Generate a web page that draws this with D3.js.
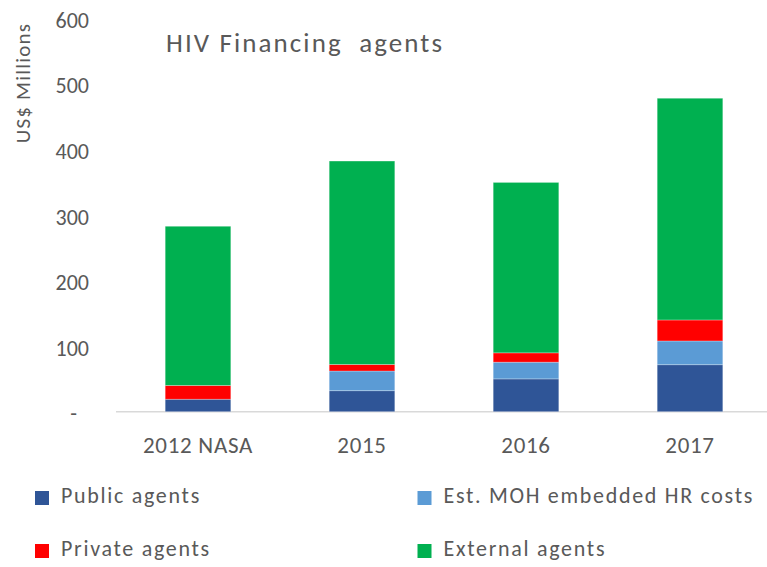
<!DOCTYPE html>
<html><head><meta charset="utf-8">
<script src="https://cdn.jsdelivr.net/npm/d3@7"></script>
<style>body{margin:0;background:#fff;} text{font-family:Carlito, Calibri, Lato, sans-serif;}</style>
</head><body><svg id="c" width="767" height="567"></svg>
<script>
const categories = ["2012 NASA", "2015", "2016", "2017"];
const seriesNames = ["Public agents", "Est. MOH embedded HR costs", "Private agents", "External agents"];
const publicAgents = [19, 32, 50, 71.6];
const mohHR = [0, 30, 25.5, 36.2];
const privateAgents = [21, 10, 14.2, 32];
const externalAgents = [242.6, 310, 259.7, 337.9];
const yTicks = [0, 100, 200, 300, 400, 500, 600];
const colors = ["#2F5597", "#5B9BD5", "#FF0000", "#00B050"];

const svg = d3.select("#c");
const x = d3.scaleBand().domain(categories).range([116, 772]).paddingInner(0.6).paddingOuter(0.3);
const y = d3.scaleLinear().domain([0, 600]).range([411.7, 18]);

const rows = categories.map((c, i) => ({cat: c, s0: publicAgents[i], s1: mohHR[i], s2: privateAgents[i], s3: externalAgents[i]}));
const stack = d3.stack().keys(["s0", "s1", "s2", "s3"])(rows);

// axis line
svg.append("line").attr("x1", 116).attr("x2", 767).attr("y1", y(0)).attr("y2", y(0))
  .attr("stroke", "#d9d9d9").attr("stroke-width", 1.5);

svg.append("g").selectAll("g").data(stack).join("g").attr("fill", (d, i) => colors[i])
  .selectAll("rect").data(d => d).join("rect")
  .attr("x", d => x(d.data.cat)).attr("width", x.bandwidth())
  .attr("y", d => y(d[1])).attr("height", d => Math.max(0, y(d[0]) - y(d[1])))
  .attr("stroke", "rgba(255,255,255,0.35)").attr("stroke-width", 0.8);

// y ticks
const yAxis = d3.axisLeft(y).tickValues(yTicks).tickSize(0).tickFormat(d => d === 0 ? "-" : d);
const gy = svg.append("g").attr("transform", "translate(89,0)").call(yAxis);
gy.select(".domain").remove();
gy.selectAll("text").attr("fill", "#595959").style("font-size", "22px").attr("dy", "0.42em")
  .attr("x", d => d === 0 ? -12 : 0);

// x labels
const xAxis = d3.axisBottom(x).tickSize(0);
const gx = svg.append("g").attr("transform", `translate(0,${y(0)})`).call(xAxis);
gx.select(".domain").remove();
gx.selectAll("text").attr("fill", "#595959").style("font-size", "23px").style("letter-spacing", "0.7px")
  .attr("dy", 0).attr("y", 41.5);

// y title
svg.append("text").attr("transform", "translate(29.5,83) rotate(-90)").attr("text-anchor", "middle")
  .attr("fill", "#595959").style("font-size", "21px").style("letter-spacing", "1.2px").text("US$ Millions");

// title
svg.append("text").attr("x", 166).attr("y", 52).attr("fill", "#595959").style("font-size", "27px")
  .style("letter-spacing", "2.1px").attr("xml:space", "preserve").text("HIV Financing  agents");

// legend
const legPos = [[35, 498], [417.5, 498], [35, 551], [417.5, 551]];
const lg = svg.append("g").selectAll("g").data(seriesNames).join("g")
  .attr("transform", (d, i) => `translate(${legPos[i][0]},${legPos[i][1]})`);
lg.append("rect").attr("x", 0).attr("y", -7).attr("width", 14).attr("height", 14).attr("fill", (d, i) => colors[i]);
lg.append("text").attr("x", 26).attr("y", 4.5).attr("fill", "#595959").style("font-size", "22px")
  .style("letter-spacing", "1.7px").text(d => d);
</script></body></html>
